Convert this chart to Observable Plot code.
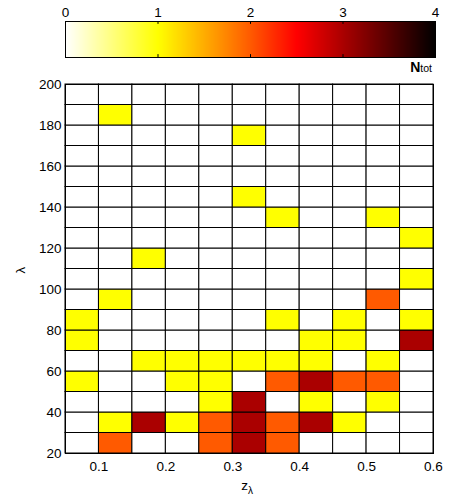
<!DOCTYPE html>
<html><head><meta charset="utf-8">
<script src="https://cdn.jsdelivr.net/npm/d3@7"></script>
<script src="https://cdn.jsdelivr.net/npm/@observablehq/plot@0.6"></script>
<style>
body{margin:0;background:#fff;}
#chart{position:relative;width:452px;height:499px;font-family:"Liberation Sans",Arial,sans-serif;}
#chart svg{position:absolute;left:0;display:block;overflow:visible;}
</style></head><body><div id="chart"></div>
<script>
// bin edges
const zEdges = [0.05,0.1,0.15,0.2,0.25,0.3,0.35,0.4,0.45,0.5,0.55,0.6];
const lambdaEdges = [20,30,40,50,60,70,80,90,100,110,120,130,140,150,160,170,180,190,200];
// counts N_tot: one row per lambda bin (20-30 first), one column per z bin
const counts = [
  [0,2,0,0,2,3,2,0,0,0,0], // 20-30
  [0,1,3,1,2,3,2,3,1,0,0], // 30-40
  [0,0,0,0,1,3,0,1,0,1,0], // 40-50
  [1,0,0,1,1,0,2,3,2,2,0], // 50-60
  [0,0,1,1,1,1,1,1,0,1,0], // 60-70
  [1,0,0,0,0,0,0,1,1,0,3], // 70-80
  [1,0,0,0,0,0,1,0,1,0,1], // 80-90
  [0,1,0,0,0,0,0,0,0,2,0], // 90-100
  [0,0,0,0,0,0,0,0,0,0,1], // 100-110
  [0,0,1,0,0,0,0,0,0,0,0], // 110-120
  [0,0,0,0,0,0,0,0,0,0,1], // 120-130
  [0,0,0,0,0,0,1,0,0,1,0], // 130-140
  [0,0,0,0,0,1,0,0,0,0,0], // 140-150
  [0,0,0,0,0,0,0,0,0,0,0], // 150-160
  [0,0,0,0,0,0,0,0,0,0,0], // 160-170
  [0,0,0,0,0,1,0,0,0,0,0], // 170-180
  [0,1,0,0,0,0,0,0,0,0,0], // 180-190
  [0,0,0,0,0,0,0,0,0,0,0]  // 190-200
];
const xTicks = [0.1,0.2,0.3,0.4,0.5,0.6];
const yTicks = [20,40,60,80,100,120,140,160,180,200];
const colorbarTicks = [0,1,2,3,4];

const cells = [];
counts.forEach((row, i) => row.forEach((n, j) => cells.push({
  z1: zEdges[j], z2: zEdges[j+1], l1: lambdaEdges[i], l2: lambdaEdges[i+1], n
})));

const colorOpts = {
  type: "linear",
  domain: [0, 1, 2, 2.5, 3, 4],
  range: ["#ffffff", "#ffff00", "#ff5a00", "#ff0000", "#aa0000", "#000000"],
  interpolate: "rgb",
  clamp: true
};
const font = {fontFamily: "'Liberation Sans', Arial, sans-serif", fontSize: "13.5px", color: "#000", background: "transparent"};

const cbar = Plot.plot({
  width: 452, height: 80,
  marginTop: 21, marginBottom: 23, marginLeft: 65, marginRight: 17,
  style: font,
  x: {domain: [0, 4], ticks: colorbarTicks, tickFormat: d3.format("d"), axis: "top", tickSize: 0, tickPadding: 5, label: null},
  y: {domain: [0, 1], axis: null},
  color: colorOpts,
  marks: [
    Plot.raster({fill: (x, y) => x, x1: 0, x2: 4, y1: 0, y2: 1, width: 370, height: 1, imageRendering: "auto"}),
    Plot.ruleX([1, 2, 3], {y1: 0, y2: 0.08, stroke: "#000"}),
    Plot.ruleX([1, 2, 3], {y1: 0.92, y2: 1, stroke: "#000"}),
    Plot.frame({stroke: "#000"})
  ]
});

const main = Plot.plot({
  width: 452, height: 419,
  marginTop: 4, marginBottom: 46, marginLeft: 65, marginRight: 19,
  style: font,
  x: {domain: [0.05, 0.6], ticks: xTicks, tickFormat: d3.format(".1f"), tickSize: 0, tickPadding: 8, label: null},
  y: {domain: [20, 200], ticks: yTicks, tickSize: 0, tickPadding: 4, label: null},
  color: colorOpts,
  marks: [
    Plot.rect(cells, {x1: "z1", x2: "z2", y1: "l1", y2: "l2", fill: "n", stroke: "#000", strokeWidth: 1}),
    Plot.frame({stroke: "#000"})
  ]
});

const chart = document.getElementById("chart");
cbar.style.top = "0px";
main.style.top = "80px";
chart.append(cbar, main);

// N_tot label
const nt = d3.select(cbar).append("text").attr("x", 432).attr("y", 72).attr("text-anchor", "end").attr("fill", "#000");
nt.append("tspan").attr("font-size", 14).attr("font-weight", "bold").text("N");
nt.append("tspan").attr("font-size", 10.5).text("tot");

// axis labels
const xl = d3.select(main).append("text").attr("x", 247).attr("y", 410).attr("text-anchor", "middle").attr("font-size", 13.5).attr("fill", "#000");
xl.append("tspan").text("z");
xl.append("tspan").attr("font-size", 10).attr("dy", 4).text("λ");
d3.select(main).append("text").attr("transform", "translate(25,190) rotate(-90)").attr("text-anchor", "middle").attr("font-size", 13.5).attr("fill", "#000").text("λ");
</script>
</body></html>
